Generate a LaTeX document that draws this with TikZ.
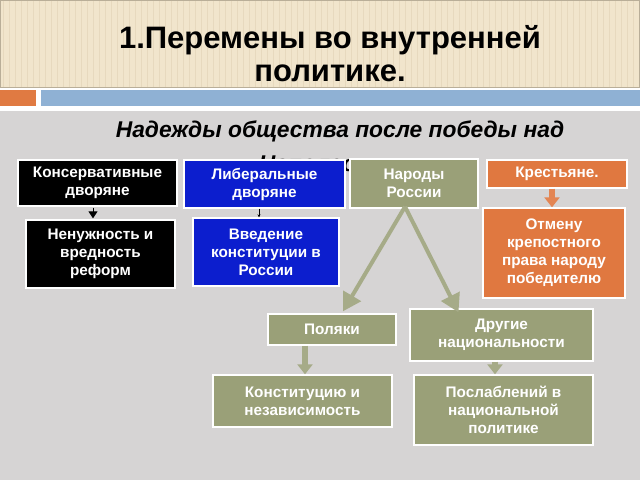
\documentclass[tikz,border=0pt]{standalone}
\usepackage{fontspec}
\setmainfont{Liberation Sans}
\usetikzlibrary{arrows.meta,shadows}
\definecolor{beige}{RGB}{241,229,204}
\definecolor{stripe}{RGB}{231,217,190}
\definecolor{barorange}{RGB}{224,122,66}
\definecolor{barblue}{RGB}{143,177,212}
\definecolor{bggray}{RGB}{214,212,212}
\definecolor{bblue}{RGB}{12,30,206}
\definecolor{olive}{RGB}{154,160,120}
\definecolor{arrolive}{RGB}{166,171,136}
\definecolor{borange}{RGB}{224,120,64}
\tikzset{
  box/.style={draw=white, line width=1.4pt, align=center, text=white,
    font=\fontsize{15.3}{18}\selectfont\bfseries, inner sep=2pt,
    drop shadow={shadow xshift=1pt, shadow yshift=-1pt, opacity=0.25}},
  bigarrow/.style={draw=arrolive, line width=4pt, -{Triangle[length=18pt,width=20pt]}},
  shortarrow/.style={line width=6pt, -{Triangle[length=10pt,width=15pt]}},
  subfont/.style={font=\fontsize{22.8}{28}\selectfont\bfseries\itshape},
}
\begin{document}
\begin{tikzpicture}[x=1pt,y=-1pt]
\useasboundingbox (0,0) rectangle (640,480);
% background
\fill[white] (0,0) rectangle (640,480);
\fill[beige] (0,0) rectangle (640,87);
\foreach \i in {3,9,...,640} \draw[stripe, line width=0.8pt] (\i,0) -- (\i,87);
\draw[stripe!80!black, line width=0.6pt] (0.3,0.3) rectangle (639.7,87);
\fill[barorange] (0,90) rectangle (36,106);
\fill[barblue] (41,90) rectangle (640,106);
\fill[bggray] (0,111) rectangle (640,480);
% titles
\node[font=\fontsize{31}{33}\selectfont\bfseries, align=center] (title) at (330,54) {1.Перемены во внутренней\\политике.};
\node[subfont] (sub) at (340,131) {Надежды общества после победы над};
\node[subfont] (sub2) at (330,164) {Наполеоном};
% boxes
\node[box, fill=black, minimum width=159, minimum height=46] (cons) at (97.5,183) {Консервативные\\дворяне};
\node[box, fill=black, minimum width=149, minimum height=68] (nen) at (100.5,254) {Ненужность и\\вредность\\реформ};
\node[box, fill=bblue, minimum width=161, minimum height=48] (lib) at (264.5,184) {Либеральные\\дворяне};
\node[box, fill=bblue, minimum width=146, minimum height=68] (vved) at (266,252) {Введение\\конституции в\\России};
\node[box, fill=olive, minimum width=128, minimum height=49] (nar) at (414,183.5) {Народы\\России};
\node[box, fill=borange, minimum width=140, minimum height=28] (kres) at (557,174) {Крестьяне.};
\node[box, fill=borange, minimum width=142, minimum height=90] (otm) at (554,253) {Отмену\\крепостного\\права народу\\победителю};
\node[box, fill=olive, minimum width=128, minimum height=31] (pol) at (332,329.5) {Поляки};
\node[box, fill=olive, minimum width=183, minimum height=52] (dr) at (501.5,335) {Другие\\национальности};
\node[box, fill=olive, minimum width=179, minimum height=52] (konst) at (302.5,401) {Конституцию и\\независимость};
\node[box, fill=olive, minimum width=179, minimum height=70] (posl) at (503.5,410) {Послаблений в\\национальной\\политике};
% connectors
\draw[black, line width=1pt, -{Triangle[length=7pt,width=9pt]}] ([xshift=-4.5pt,yshift=-1pt]cons.south) -- ([xshift=-7.5pt,yshift=1pt]nen.north);
\draw[black, line width=0.6pt, -{Stealth[length=3pt,width=3pt]}] ([xshift=-5.5pt]lib.south) -- ([xshift=-7pt]vved.north);
\draw[bigarrow] ([xshift=-9pt,yshift=2pt]nar.south) -- ([xshift=11pt,yshift=2pt]pol.north);
\draw[bigarrow] ([xshift=-9pt,yshift=2pt]nar.south) -- ([xshift=-43pt,yshift=-4pt]dr.north);
\draw[shortarrow, draw=borange!90!white] ([xshift=-5pt]kres.south) -- ([xshift=-2pt]otm.north);
\draw[shortarrow, draw=arrolive] ([xshift=-27pt]pol.south) -- ([xshift=2.5pt]konst.north);
\draw[shortarrow, draw=arrolive] ([xshift=-6.5pt]dr.south) -- ([xshift=-8.5pt]posl.north);
\end{tikzpicture}
\end{document}
